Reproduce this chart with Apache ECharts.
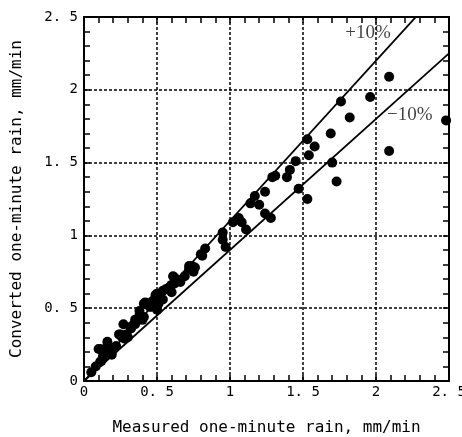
<!DOCTYPE html>
<html>
<head>
<meta charset="utf-8">
<script src="https://cdn.jsdelivr.net/npm/echarts@6/dist/echarts.min.js"></script>
<style>html,body{margin:0;padding:0;background:#fff}#c{width:462px;height:437px}</style>
</head>
<body>
<div id="c"></div>
<script>
// measured (x) vs converted (y) one-minute rain, mm/min
const measured = [2.09,1.96,1.76,1.82,2.48,1.69,2.09,1.70,1.73,1.53,1.58,1.54,1.45,1.41,1.31,1.29,1.39,1.47,1.24,1.53,1.17,1.20,1.14,1.24,1.28,1.02,1.06,1.08,1.11,0.95,0.95,0.97,0.83,0.81,0.80,0.72,0.76,0.73,0.75,0.62,0.60,0.58,0.60,0.56,0.50,0.52,0.54,0.49,0.42,0.45,0.46,0.43,0.38,0.36,0.40,0.38,0.50,0.27,0.35,0.32,0.25,0.28,0.30,0.16,0.10,0.19,0.14,0.12,0.11,0.08,0.05,0.15,0.11,0.20,0.22,0.26,0.33,0.47,0.66,0.69,
  0.17,0.19,0.13,0.16,0.24,0.29,0.32,0.35,0.41,0.41,0.46,0.51,0.49,0.54,0.61,0.62,0.72,0.74];
const converted = [2.09,1.95,1.92,1.81,1.79,1.70,1.58,1.50,1.37,1.66,1.61,1.55,1.51,1.45,1.41,1.40,1.40,1.32,1.30,1.25,1.27,1.21,1.22,1.15,1.12,1.09,1.12,1.09,1.04,1.02,0.97,0.92,0.91,0.86,0.87,0.79,0.78,0.77,0.75,0.71,0.66,0.64,0.61,0.63,0.60,0.56,0.56,0.52,0.54,0.51,0.52,0.53,0.45,0.42,0.42,0.48,0.49,0.39,0.39,0.36,0.32,0.29,0.30,0.27,0.22,0.20,0.19,0.14,0.13,0.10,0.06,0.18,0.22,0.22,0.24,0.30,0.38,0.55,0.68,0.72,
  0.20,0.18,0.17,0.24,0.32,0.32,0.36,0.42,0.44,0.53,0.51,0.53,0.59,0.62,0.72,0.67,0.77,0.79];
const plusLine = [[0,0],[2.5,2.75]];   // +10%
const minusLine = [[0,0],[2.5,2.25]];  // -10%
const tickLabels = ['0','0. 5','1','1. 5','2','2. 5'];
const lineLabels = [{text:'+10%', pos:[1.79,2.39]}, {text:'\u221210%', pos:[2.075,1.83]}];

const points = measured.map((m,i)=>[m, converted[i]]);
const monoFont = "'DejaVu Sans Mono', monospace";
const fmt = v => { const i = Math.round(v/0.5); return tickLabels[i] !== undefined ? tickLabels[i] : ''; };

const baseAxis = {
  min: 0, max: 2.5, interval: 0.5,
  axisLine: {show: true, onZero: false, lineStyle: {color: '#000', width: 2}},
  axisTick: {show: true, inside: true, length: 6, lineStyle: {color: '#000', width: 1.5}},
  minorTick: {show: true, splitNumber: 5, length: 6, lineStyle: {color: '#000', width: 1.5}},
  splitLine: {show: false}
};

const chart = echarts.init(document.getElementById('c'), null, {renderer: 'canvas'});
chart.setOption({
  animation: false,
  backgroundColor: '#fff',
  grid: {left: 84, right: 13, top: 17, bottom: 56, containLabel: false, outerBoundsMode: 'none'},
  xAxis: [
    Object.assign({}, baseAxis, {
      type: 'value', position: 'bottom',
      name: 'Measured one-minute rain, mm/min', nameLocation: 'middle', nameGap: 39,
      nameTextStyle: {fontFamily: monoFont, fontSize: 16, color: '#000'},
      axisLabel: {formatter: fmt, fontFamily: monoFont, fontSize: 14, color: '#000', margin: 4},
      splitLine: {show: true, lineStyle: {color: '#000', width: 1.5, type: [3,2]}}
    }),
    Object.assign({}, baseAxis, {type: 'value', position: 'top', axisLabel: {show: false}})
  ],
  yAxis: [
    Object.assign({}, baseAxis, {
      type: 'value', position: 'left',
      name: 'Converted one-minute rain, mm/min', nameLocation: 'middle', nameGap: 59,
      nameTextStyle: {fontFamily: monoFont, fontSize: 16, color: '#000'},
      axisLabel: {formatter: fmt, fontFamily: monoFont, fontSize: 14, color: '#000', margin: 6},
      splitLine: {show: true, lineStyle: {color: '#000', width: 1.5, type: [3,2]}}
    }),
    Object.assign({}, baseAxis, {type: 'value', position: 'right', axisLabel: {show: false}})
  ],
  series: [
    {type: 'line', data: plusLine, symbol: 'none', clip: true, lineStyle: {color: '#000', width: 1.8}, z: 3},
    {type: 'line', data: minusLine, symbol: 'none', clip: true, lineStyle: {color: '#000', width: 1.8}, z: 3},
    {type: 'scatter', data: points, symbol: 'circle', symbolSize: 10, itemStyle: {color: '#000', opacity: 1}, clip: false, z: 4},
    {type: 'scatter', data: lineLabels.map(l => ({value: l.pos, name: l.text})), symbolSize: 0, z: 5,
      label: {show: true, position: 'right', distance: 0, formatter: p => p.name,
        fontFamily: "'Liberation Serif', serif", fontSize: 19, color: '#111'}}
  ]
});
</script>
</body>
</html>
